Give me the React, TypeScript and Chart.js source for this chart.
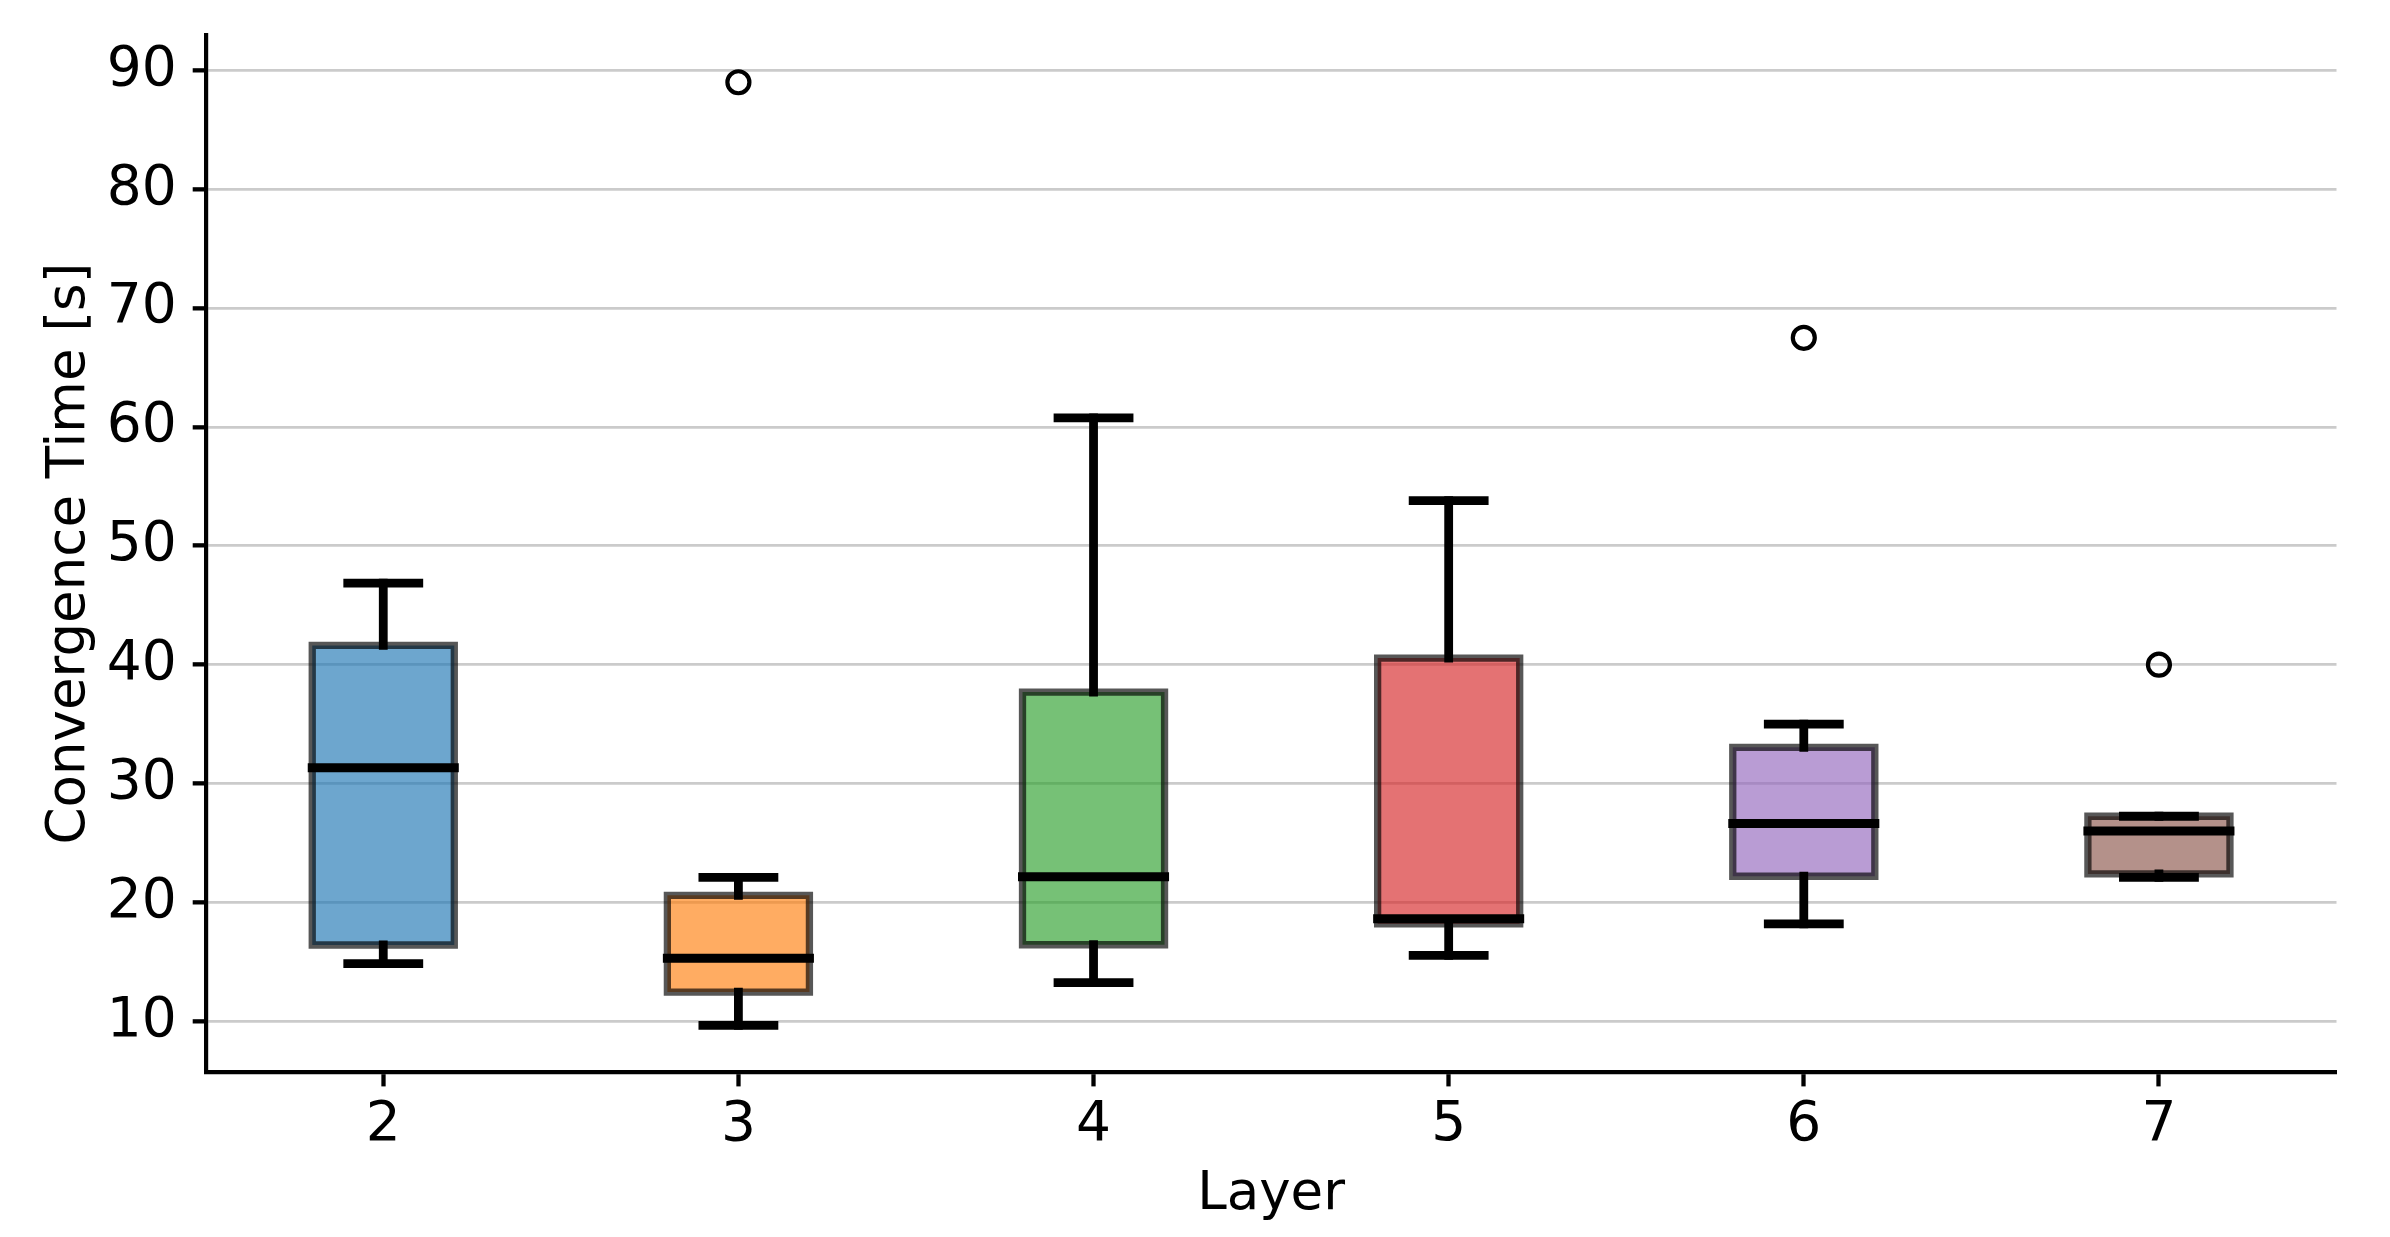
import React, { useEffect, useRef } from 'react';
import { Chart, registerables } from 'chart.js';

Chart.register(...registerables);

const layers = [2, 3, 4, 5, 6, 7];
const whiskerLow = [14.85, 9.66, 13.26, 15.54, 18.2, 22.1];
const q1 = [16.42, 12.46, 16.44, 18.2, 22.2, 22.4];
const median = [31.34, 15.3, 22.15, 18.63, 26.65, 26.0];
const q3 = [41.62, 20.6, 37.7, 40.56, 33.05, 27.25];
const whiskerHigh = [46.87, 22.1, 60.77, 53.8, 35.0, 27.25];
const outlierLayers = [3, 6, 7];
const outlierValues = [89.0, 67.5, 40.0];
const boxColors = [
  'rgba(31,119,180,0.65)',
  'rgba(255,127,14,0.65)',
  'rgba(44,160,44,0.65)',
  'rgba(214,39,40,0.65)',
  'rgba(148,103,189,0.65)',
  'rgba(140,86,75,0.65)',
];
const yTicks = [10, 20, 30, 40, 50, 60, 70, 80, 90];
const xTicks = [2, 3, 4, 5, 6, 7];

const FONT = 'DejaVu Sans';
const BOX_HALF = 0.2;
const CAP_HALF = 0.1;

export default function App() {
  const ref = useRef<HTMLCanvasElement | null>(null);

  useEffect(() => {
    if (!ref.current) return;
    Chart.defaults.font.family = FONT;
    Chart.defaults.color = '#000';

    const boxOutline = layers.flatMap((x, i) => [
      { x: x - BOX_HALF, y: q1[i] },
      { x: x + BOX_HALF, y: q1[i] },
      { x: x + BOX_HALF, y: q3[i] },
      { x: x - BOX_HALF, y: q3[i] },
      { x: x - BOX_HALF, y: q1[i] },
      { x: x, y: null },
    ]);
    const whiskers = layers.flatMap((x, i) => [
      { x, y: q1[i] },
      { x, y: whiskerLow[i] },
      { x, y: null },
      { x, y: q3[i] },
      { x, y: whiskerHigh[i] },
      { x, y: null },
    ]);
    const caps = layers.flatMap((x, i) => [
      { x: x - CAP_HALF, y: whiskerLow[i] },
      { x: x + CAP_HALF, y: whiskerLow[i] },
      { x, y: null },
      { x: x - CAP_HALF, y: whiskerHigh[i] },
      { x: x + CAP_HALF, y: whiskerHigh[i] },
      { x, y: null },
    ]);
    const medians = layers.flatMap((x, i) => [
      { x: x - BOX_HALF, y: median[i] },
      { x: x + BOX_HALF, y: median[i] },
      { x, y: null },
    ]);

    const lineBase = {
      type: 'line' as const,
      pointRadius: 0,
      pointHoverRadius: 0,
      fill: false,
      spanGaps: false,
      tension: 0,
      borderCapStyle: 'square' as const,
      borderJoinStyle: 'miter' as const,
    };

    const chart = new Chart(ref.current, {
      type: 'bar',
      data: {
        datasets: [
          {
            type: 'bar',
            label: 'box',
            data: layers.map((x, i) => ({ x, y: [q1[i], q3[i]] })) as any,
            backgroundColor: boxColors,
            borderWidth: 0,
            barPercentage: 0.4,
            categoryPercentage: 1.0,
            order: 5,
          },
          {
            ...lineBase,
            label: 'outline',
            data: boxOutline as any,
            borderColor: 'rgba(0,0,0,0.66)',
            borderWidth: 7.3,
            order: 4,
          },
          {
            ...lineBase,
            label: 'whiskers',
            data: whiskers as any,
            borderColor: '#000',
            borderWidth: 8.8,
            order: 3,
          },
          {
            ...lineBase,
            label: 'caps',
            data: caps as any,
            borderColor: '#000',
            borderWidth: 8.8,
            order: 2,
          },
          {
            ...lineBase,
            label: 'medians',
            data: medians as any,
            borderColor: '#000',
            borderWidth: 9,
            order: 1,
          },
          {
            type: 'scatter',
            label: 'outliers',
            data: outlierLayers.map((x, i) => ({ x, y: outlierValues[i] })),
            pointRadius: 11,
            pointHoverRadius: 11,
            borderWidth: 4.2,
            borderColor: '#000',
            backgroundColor: 'rgba(0,0,0,0)',
            order: 0,
          },
        ],
      },
      options: {
        animation: false,
        responsive: true,
        maintainAspectRatio: false,
        devicePixelRatio: 1,
        layout: { padding: { left: 0, top: 34.7, right: 53.5, bottom: 0 } },
        plugins: {
          legend: { display: false },
          tooltip: { enabled: false },
          title: { display: false },
        },
        scales: {
          x: {
            type: 'linear',
            min: 1.5,
            max: 7.5,
            offset: false,
            afterBuildTicks: (s: any) => {
              s.ticks = xTicks.map((v) => ({ value: v }));
            },
            afterFit: (s: any) => {
              s.height = 164.6;
              s.paddingLeft = 0;
              s.paddingRight = 0;
              s.paddingTop = 0;
              s.paddingBottom = 0;
            },
            grid: {
              display: true,
              offset: false,
              drawOnChartArea: false,
              drawTicks: true,
              tickLength: 14,
              tickWidth: 4.3,
              tickColor: '#000',
            },
            border: { display: true, color: '#000', width: 4.2 },
            ticks: {
              color: '#000',
              font: { size: 55, family: FONT },
              padding: 6,
              maxRotation: 0,
              autoSkip: false,
            },
            title: {
              display: true,
              text: 'Layer',
              color: '#000',
              font: { size: 53, family: FONT },
              padding: { top: 0, bottom: 10 },
            },
          },
          y: {
            type: 'linear',
            min: 5.7,
            max: 93.0,
            afterBuildTicks: (s: any) => {
              s.ticks = yTicks.map((v) => ({ value: v }));
            },
            afterFit: (s: any) => {
              s.width = 205.7;
              s.paddingLeft = 0;
              s.paddingRight = 0;
              s.paddingTop = 0;
              s.paddingBottom = 0;
            },
            grid: {
              display: true,
              offset: false,
              color: '#cbcbcb',
              lineWidth: 2.7,
              drawTicks: true,
              tickLength: 13,
              tickWidth: 4.3,
              tickColor: '#000',
            },
            border: { display: true, color: '#000', width: 4.2 },
            ticks: {
              color: '#000',
              font: { size: 55, family: FONT },
              padding: 16,
              autoSkip: false,
            },
            title: {
              display: true,
              text: 'Convergence Time [s]',
              color: '#000',
              font: { size: 53, family: FONT },
              padding: { top: 38, bottom: 0 },
            },
          },
        },
      },
    } as any);

    return () => chart.destroy();
  }, []);

  return (
    <div
      style={{
        position: 'fixed',
        left: 0,
        top: 0,
        width: 2390,
        height: 1237,
        background: '#fff',
      }}
    >
      <canvas ref={ref} />
    </div>
  );
}
